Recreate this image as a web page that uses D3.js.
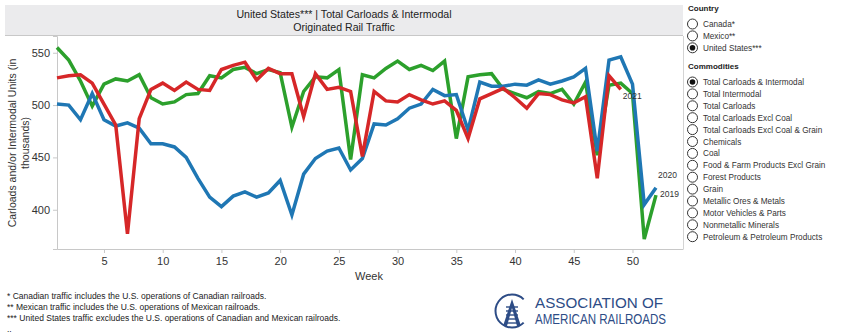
<!DOCTYPE html>
<html>
<head>
<meta charset="utf-8">
<script src="https://cdn.jsdelivr.net/npm/d3@7"></script>
<style>
  body { margin: 0; background: #fff; font-family: "Liberation Sans", Arial, sans-serif; }
  svg text { font-family: "Liberation Sans", Arial, sans-serif; }
</style>
</head>
<body>
<div id="chart"></div>
<script>
// weekly originated carloads + intermodal units, thousands
var weeks = d3.range(1, 53);

var y2019 = [555, 543, 523, 499, 520, 525, 523, 529, 507, 501, 503, 510, 511, 528,
  526, 534, 536, 530, 534, 531, 479, 513, 527, 526, 534, 448, 529, 526, 535, 542,
  534, 538, 533, 542, 468, 527, 529, 530, 515, 511, 507, 513, 511, 515, 501, 522,
  452, 519, 521, 511, 372, 414];

var y2020 = [501, 500, 486, 511, 486, 480, 483, 478, 463, 463, 460, 450, 430, 412,
  403, 413, 417, 412, 416, 428, 395, 434, 449, 456, 459, 438, 449, 482, 481, 487,
  497, 501, 515, 509, 510, 476, 522, 518, 518, 520, 519, 524, 520, 523, 527, 535,
  456, 543, 546, 520, 405, 421];

var y2021 = [526, 528, 529, 521, 501, 481, 377, 487, 515, 521, 514, 522, 515, 514,
  534, 538, 541, 524, 535, 530, 530, 489, 530, 515, 517, 513, 451, 513, 504, 503,
  510, 505, 501, 504, 495, 468, 506, 511, 516, 507, 497, 511, 510, 505, 502, 508,
  430, 528, 515];

var seriesNames = ["2019", "2020", "2021"];
var seriesColors = ["#2ca02c", "#1f77b4", "#d62728"];
var seriesValues = [y2019, y2020, y2021];

var yTicks = [400, 450, 500, 550];
var xTicks = [5, 10, 15, 20, 25, 30, 35, 40, 45, 50];

var countries = ["Canada*", "Mexico**", "United States***"];
var commodities = ["Total Carloads & Intermodal", "Total Intermodal", "Total Carloads",
  "Total Carloads Excl Coal", "Total Carloads Excl Coal & Grain", "Chemicals", "Coal",
  "Food & Farm Products Excl Grain", "Forest Products", "Grain", "Metallic Ores & Metals",
  "Motor Vehicles & Parts", "Nonmetallic Minerals", "Petroleum & Petroleum Products"];

var notes = ["* Canadian traffic includes the U.S. operations of Canadian railroads.",
  "** Mexican traffic includes the U.S. operations of Mexican railroads.",
  "*** United States traffic excludes the U.S. operations of Canadian and Mexican railroads.",
  ".."];

var svg = d3.select("#chart").append("svg")
  .attr("width", 850)
  .attr("height", 335);

var plot = { left: 57, right: 683, top: 36, bottom: 249 };

// title band
svg.append("rect")
  .attr("x", 5).attr("y", 5)
  .attr("width", plot.right - 5).attr("height", 30)
  .attr("fill", "#ebebed");
svg.append("line")
  .attr("x1", 5).attr("x2", plot.right)
  .attr("y1", 35.5).attr("y2", 35.5)
  .attr("stroke", "#c8c8c8");
svg.append("text")
  .attr("x", 344).attr("y", 18)
  .attr("text-anchor", "middle")
  .style("font-size", "10.6px").attr("fill", "#222")
  .text("United States*** | Total Carloads & Intermodal");
svg.append("text")
  .attr("x", 344).attr("y", 31)
  .attr("text-anchor", "middle")
  .style("font-size", "10.6px").attr("fill", "#222")
  .text("Originated Rail Traffic");

var x = d3.scaleLinear().domain([1, 54.3]).range([plot.left, plot.right]);
var y = d3.scaleLinear().domain([362.5, 566]).range([plot.bottom, plot.top]);

// right edge of the pane
svg.append("line")
  .attr("x1", plot.right + 0.5).attr("x2", plot.right + 0.5)
  .attr("y1", plot.top).attr("y2", plot.bottom)
  .attr("stroke", "#d4d4d4");

var yAxis = svg.append("g")
  .attr("transform", "translate(" + plot.left + ",0)")
  .call(d3.axisLeft(y).tickValues(yTicks).tickSize(4).tickPadding(3));
yAxis.select(".domain").attr("stroke", "#c8c8c8");
yAxis.selectAll("line").attr("stroke", "#c8c8c8");
yAxis.selectAll("text").style("font-size", "11px").attr("fill", "#333");

var xAxis = svg.append("g")
  .attr("transform", "translate(0," + plot.bottom + ")")
  .call(d3.axisBottom(x).tickValues(xTicks).tickSize(4).tickPadding(4).tickSizeOuter(0));
xAxis.select(".domain").attr("stroke", "#c8c8c8");
xAxis.selectAll("line").attr("stroke", "#c8c8c8");
xAxis.selectAll("text").style("font-size", "11px").attr("fill", "#333");

svg.append("text")
  .attr("x", 369).attr("y", 280)
  .attr("text-anchor", "middle")
  .style("font-size", "11px").attr("fill", "#333")
  .text("Week");

var yTitle = svg.append("text")
  .attr("transform", "translate(16,143) rotate(-90)")
  .attr("text-anchor", "middle")
  .style("font-size", "10.5px").attr("fill", "#333");
yTitle.append("tspan").attr("x", 0).attr("dy", 0).text("Carloads and/or Intermodal Units (in");
yTitle.append("tspan").attr("x", 0).attr("dy", 13).text("thousands)");

var line = d3.line()
  .x(function (d, i) { return x(weeks[i]); })
  .y(function (d) { return y(d); });

seriesValues.forEach(function (vals, k) {
  svg.append("path")
    .datum(vals)
    .attr("d", line)
    .attr("fill", "none")
    .attr("stroke", seriesColors[k])
    .attr("stroke-width", 3.5)
    .attr("stroke-linejoin", "miter");
});

// end labels
var labelOffsets = [[4, 2], [2, -10], [2, 10]];
seriesValues.forEach(function (vals, k) {
  var n = vals.length - 1;
  svg.append("text")
    .attr("x", x(weeks[n]) + labelOffsets[k][0])
    .attr("y", y(vals[n]) + labelOffsets[k][1])
    .style("font-size", "8.5px").attr("fill", "#333")
    .text(seriesNames[k]);
});

// filter panel
function radioGroup(title, items, top, selected) {
  svg.append("text")
    .attr("x", 688).attr("y", top)
    .style("font-size", "8px").style("font-weight", "bold").attr("fill", "#222")
    .text(title);
  var g = svg.selectAll(null).data(items).enter().append("g")
    .attr("transform", function (d, i) { return "translate(0," + (top + 13 + i * 11.9) + ")"; });
  g.append("circle")
    .attr("cx", 692.5).attr("cy", 0).attr("r", 5)
    .attr("fill", "#fff").attr("stroke", "#333").attr("stroke-width", 1);
  g.filter(function (d) { return d === selected; }).append("circle")
    .attr("cx", 692.5).attr("cy", 0).attr("r", 2.8).attr("fill", "#111");
  g.append("text")
    .attr("x", 703).attr("y", 3)
    .style("font-size", "8.2px").attr("fill", "#333")
    .text(function (d) { return d; });
}
radioGroup("Country", countries, 11, "United States***");
radioGroup("Commodities", commodities, 69, "Total Carloads & Intermodal");

// footnotes
svg.selectAll(null).data(notes).enter().append("text")
  .attr("x", 7).attr("y", function (d, i) { return 299 + i * 11; })
  .style("font-size", "8.5px").attr("fill", "#222")
  .text(function (d) { return d; });

// AAR mark
var logo = svg.append("g").attr("transform", "translate(512,311)");
logo.append("path")
  .attr("d", d3.arc()({ innerRadius: 15.5, outerRadius: 17.5, startAngle: 0.75 * Math.PI, endAngle: 2.25 * Math.PI }))
  .attr("fill", "#2d4c86");
logo.append("path")
  .attr("d", "M0,-12 L-9,15 L-5,15 L0,-3 L5,15 L9,15 Z")
  .attr("fill", "#2d4c86");
[-4, 0, 4, 8, 12].forEach(function (dy) {
  logo.append("line")
    .attr("x1", -6).attr("x2", 6).attr("y1", dy).attr("y2", dy)
    .attr("stroke", "#2d4c86").attr("stroke-width", 1.4);
});
svg.append("text")
  .attr("x", 535).attr("y", 308)
  .style("font-size", "15px").attr("fill", "#2d4c86")
  .attr("textLength", 128).attr("lengthAdjust", "spacingAndGlyphs")
  .text("ASSOCIATION OF");
svg.append("text")
  .attr("x", 535).attr("y", 324)
  .style("font-size", "15px").attr("fill", "#2d4c86")
  .attr("textLength", 131).attr("lengthAdjust", "spacingAndGlyphs")
  .text("AMERICAN RAILROADS");
</script>
</body>
</html>
